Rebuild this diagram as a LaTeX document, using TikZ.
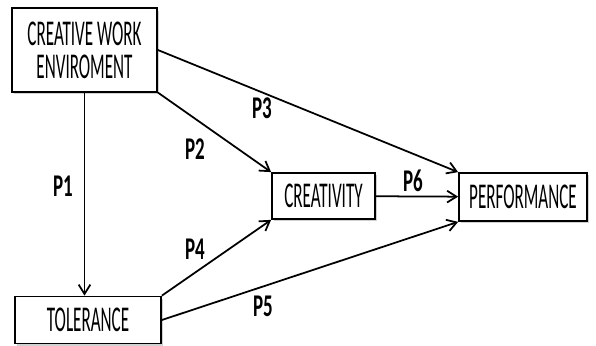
\documentclass[tikz,border=0pt]{standalone}
\usepackage{fontspec}
\newfontfamily\boxfont[FakeStretch=0.47]{Carlito}
\newfontfamily\pfont[FakeStretch=0.60]{Carlito}
\usepackage{tikz}
\usetikzlibrary{arrows.meta, positioning, calc, shadows}

\begin{document}
\begin{tikzpicture}[
  x=0.03cm, y=-0.03cm,
  cbox/.style={draw, line width=1.5pt, fill=white, align=center, inner sep=0pt,
    font=\boxfont\fontsize{31}{28}\selectfont,
    drop shadow={shadow xshift=2pt, shadow yshift=-2pt, fill=gray!60, opacity=.6}},
  plabel/.style={font=\pfont\bfseries\fontsize{27}{28}\selectfont, inner sep=0pt},
  link/.style={line width=1.5pt, -{Straight Barb[length=8pt, width=10pt, line width=1.5pt]}}
]
  \useasboundingbox (0,0) rectangle (596,346);

  % concepts
  \node[cbox, minimum width=4.35cm, minimum height=2.5cm] (cwe) at (84.5,50) {CREATIVE WORK\\ENVIROMENT};
  \node[cbox, minimum width=3.09cm, minimum height=1.38cm] (cre) at (323.5,196) {CREATIVITY};
  \node[cbox, minimum width=3.84cm, minimum height=1.44cm] (perf) at (523,197) {PERFORMANCE};
  \node[cbox, minimum width=4.38cm, minimum height=1.41cm] (tol) at (88,320) {TOLERANCE};

  % propositions
  \draw[link, line width=0.9pt] (cwe.south) -- (cwe.south |- tol.north);
  \draw[link] (cwe.south east) -- (cre.north west);
  \draw[link] (cwe.east) -- (perf.north west);
  \draw[link] (tol.north east) -- (cre.south west);
  \draw[link] (tol.east) -- (perf.south west);
  \draw[link] (cre) -- (perf);

  \node[plabel] (p1) at (63,186) {P1};
  \node[plabel] (p2) at (195,149) {P2};
  \node[plabel] (p3) at (262,108) {P3};
  \node[plabel] (p4) at (195,249) {P4};
  \node[plabel] (p5) at (263,306) {P5};
  \node[plabel] (p6) at (413,181) {P6};
\end{tikzpicture}
\end{document}
